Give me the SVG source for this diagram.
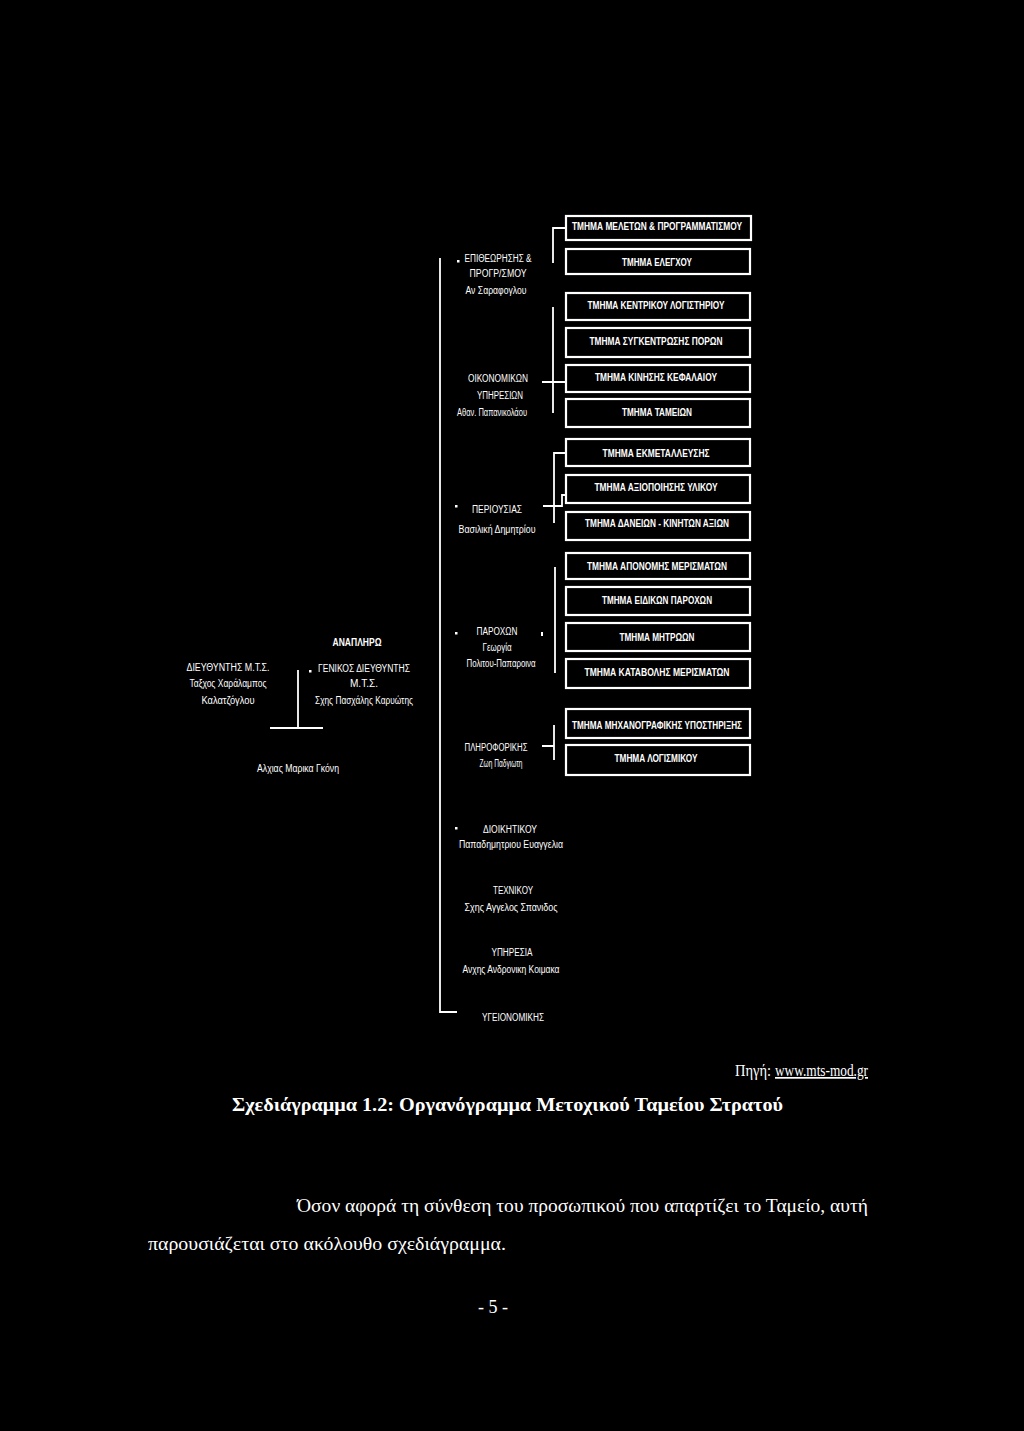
<svg xmlns="http://www.w3.org/2000/svg" width="1024" height="1431" viewBox="0 0 1024 1431">
<style>
.bg{fill:#000}
.box{fill:none;stroke:#fff;stroke-width:2.2}
.ln{fill:none;stroke:#fff;stroke-width:1.8}
.t{font-family:"Liberation Sans",Arial,sans-serif;font-size:10px;fill:#fff;text-anchor:middle}
.b{font-weight:bold}
.s{font-family:"Liberation Serif","Times New Roman",serif;fill:#fff}
.dot{fill:#fff}
</style>
<rect class="bg" x="0" y="0" width="1024" height="1431"/>
<g id="connectors">
<path class="ln" d="M440,258 V1012 H457"/>
<path class="ln" d="M298,670 V728 M270,728 H323"/>
<path class="ln" d="M566,228 H553 V263"/>
<path class="ln" d="M553,307 V413 M542,382 H566"/>
<path class="ln" d="M566,453 H554 V523 M543,506 H562 V495 H566"/>
<path class="ln" d="M555,567 V673"/>
<path class="ln" d="M554,725 V760 M542,746 H554"/>
<rect class="dot" x="541" y="632" width="2" height="4"/>
</g>
<g id="director">
<text class="t" x="228" y="671" textLength="83" lengthAdjust="spacingAndGlyphs">ΔΙΕΥΘΥΝΤΗΣ Μ.Τ.Σ.</text>
<text class="t" x="228" y="687" textLength="77" lengthAdjust="spacingAndGlyphs">Ταξχος Χαράλαμπος</text>
<text class="t" x="228" y="704" textLength="53" lengthAdjust="spacingAndGlyphs">Καλατζόγλου</text>
</g>
<g id="deputy">
<text class="t b" x="357" y="646" textLength="49" lengthAdjust="spacingAndGlyphs">ΑΝΑΠΛΗΡΩ</text>
<rect class="dot" x="309" y="670" width="2.5" height="2.5"/>
<text class="t" x="364" y="672" textLength="92" lengthAdjust="spacingAndGlyphs">ΓΕΝΙΚΟΣ ΔΙΕΥΘΥΝΤΗΣ</text>
<text class="t" x="364" y="687" textLength="28" lengthAdjust="spacingAndGlyphs">Μ.Τ.Σ.</text>
<text class="t" x="364" y="704" textLength="98" lengthAdjust="spacingAndGlyphs">Σχης Πασχάλης Καρυώτης</text>
</g>
<g id="secretary">
<text class="t" x="298" y="772" textLength="82" lengthAdjust="spacingAndGlyphs">Αλχιας Μαρικα Γκόνη</text>
</g>
<g id="dir-inspection">
<rect class="dot" x="457" y="260" width="2.5" height="2.5"/>
<text class="t" x="498" y="262" textLength="67" lengthAdjust="spacingAndGlyphs">ΕΠΙΘΕΩΡΗΣΗΣ &amp;</text>
<text class="t" x="498" y="277" textLength="57" lengthAdjust="spacingAndGlyphs">ΠΡΟΓΡ/ΣΜΟΥ</text>
<text class="t" x="496" y="294" textLength="61" lengthAdjust="spacingAndGlyphs">Αν Σαραφογλου</text>
</g>
<g id="dir-finance">
<text class="t" x="498" y="382" textLength="60" lengthAdjust="spacingAndGlyphs">ΟΙΚΟΝΟΜΙΚΩΝ</text>
<text class="t" x="500" y="399" textLength="46" lengthAdjust="spacingAndGlyphs">ΥΠΗΡΕΣΙΩΝ</text>
<text class="t" x="492" y="416" textLength="70" lengthAdjust="spacingAndGlyphs">Αθαν. Παπανικολάου</text>
</g>
<g id="dir-property">
<rect class="dot" x="455" y="505" width="2.5" height="2.5"/>
<text class="t" x="497" y="513" textLength="50" lengthAdjust="spacingAndGlyphs">ΠΕΡΙΟΥΣΙΑΣ</text>
<text class="t" x="497" y="533" textLength="77" lengthAdjust="spacingAndGlyphs">Βασιλική Δημητρίου</text>
</g>
<g id="dir-benefits">
<rect class="dot" x="455" y="632" width="2.5" height="2.5"/>
<text class="t" x="497" y="635" textLength="41" lengthAdjust="spacingAndGlyphs">ΠΑΡΟΧΩΝ</text>
<text class="t" x="497" y="651" textLength="29" lengthAdjust="spacingAndGlyphs">Γεωργία</text>
<text class="t" x="501" y="667" textLength="69" lengthAdjust="spacingAndGlyphs">Πολιτου-Παπαροινα</text>
</g>
<g id="dir-it">
<text class="t" x="496" y="751" textLength="63" lengthAdjust="spacingAndGlyphs">ΠΛΗΡΟΦΟΡΙΚΗΣ</text>
<text class="t" x="501" y="767" textLength="43" lengthAdjust="spacingAndGlyphs">Ζωη Παδγιωτη</text>
</g>
<g id="dir-admin">
<rect class="dot" x="455" y="827" width="2.5" height="2.5"/>
<text class="t" x="510" y="833" textLength="54" lengthAdjust="spacingAndGlyphs">ΔΙΟΙΚΗΤΙΚΟΥ</text>
<text class="t" x="511" y="848" textLength="104" lengthAdjust="spacingAndGlyphs">Παπαδημητριου Ευαγγελια</text>
</g>
<g id="dir-tech">
<text class="t" x="513" y="894" textLength="40" lengthAdjust="spacingAndGlyphs">ΤΕΧΝΙΚΟΥ</text>
<text class="t" x="511" y="911" textLength="93" lengthAdjust="spacingAndGlyphs">Σχης Αγγελος Σπανιδος</text>
</g>
<g id="dir-service">
<text class="t" x="512" y="956" textLength="41" lengthAdjust="spacingAndGlyphs">ΥΠΗΡΕΣΙΑ</text>
<text class="t" x="511" y="973" textLength="97" lengthAdjust="spacingAndGlyphs">Ανχης Ανδρονικη Κοιμακα</text>
</g>
<g id="dir-health">
<text class="t" x="513" y="1021" textLength="62" lengthAdjust="spacingAndGlyphs">ΥΓΕΙΟΝΟΜΙΚΗΣ</text>
</g>
<g id="b1"><rect class="box" x="566" y="216" width="185" height="24"/><text class="t b" x="657" y="230" textLength="170" lengthAdjust="spacingAndGlyphs">ΤΜΗΜΑ ΜΕΛΕΤΩΝ &amp; ΠΡΟΓΡΑΜΜΑΤΙΣΜΟΥ</text></g>
<g id="b2"><rect class="box" x="566" y="249" width="184" height="25"/><text class="t b" x="657" y="266" textLength="70" lengthAdjust="spacingAndGlyphs">ΤΜΗΜΑ ΕΛΕΓΧΟΥ</text></g>
<g id="b3"><rect class="box" x="566" y="293" width="184" height="27"/><text class="t b" x="656" y="309" textLength="137" lengthAdjust="spacingAndGlyphs">ΤΜΗΜΑ ΚΕΝΤΡΙΚΟΥ ΛΟΓΙΣΤΗΡΙΟΥ</text></g>
<g id="b4"><rect class="box" x="566" y="328" width="184" height="29"/><text class="t b" x="656" y="345" textLength="133" lengthAdjust="spacingAndGlyphs">ΤΜΗΜΑ ΣΥΓΚΕΝΤΡΩΣΗΣ ΠΟΡΩΝ</text></g>
<g id="b5"><rect class="box" x="566" y="365" width="184" height="27"/><text class="t b" x="656" y="381" textLength="122" lengthAdjust="spacingAndGlyphs">ΤΜΗΜΑ ΚΙΝΗΣΗΣ ΚΕΦΑΛΑΙΟΥ</text></g>
<g id="b6"><rect class="box" x="566" y="399" width="184" height="28"/><text class="t b" x="657" y="416" textLength="70" lengthAdjust="spacingAndGlyphs">ΤΜΗΜΑ ΤΑΜΕΙΩΝ</text></g>
<g id="b7"><rect class="box" x="566" y="439" width="184" height="27"/><text class="t b" x="656" y="457" textLength="107" lengthAdjust="spacingAndGlyphs">ΤΜΗΜΑ ΕΚΜΕΤΑΛΛΕΥΣΗΣ</text></g>
<g id="b8"><rect class="box" x="566" y="475" width="184" height="28"/><text class="t b" x="656" y="491" textLength="123" lengthAdjust="spacingAndGlyphs">ΤΜΗΜΑ ΑΞΙΟΠΟΙΗΣΗΣ ΥΛΙΚΟΥ</text></g>
<g id="b9"><rect class="box" x="566" y="512" width="184" height="28"/><text class="t b" x="657" y="527" textLength="144" lengthAdjust="spacingAndGlyphs">ΤΜΗΜΑ ΔΑΝΕΙΩΝ - ΚΙΝΗΤΩΝ ΑΞΙΩΝ</text></g>
<g id="b10"><rect class="box" x="566" y="553" width="184" height="26"/><text class="t b" x="657" y="570" textLength="140" lengthAdjust="spacingAndGlyphs">ΤΜΗΜΑ ΑΠΟΝΟΜΗΣ ΜΕΡΙΣΜΑΤΩΝ</text></g>
<g id="b11"><rect class="box" x="566" y="587" width="184" height="28"/><text class="t b" x="657" y="604" textLength="110" lengthAdjust="spacingAndGlyphs">ΤΜΗΜΑ ΕΙΔΙΚΩΝ ΠΑΡΟΧΩΝ</text></g>
<g id="b12"><rect class="box" x="566" y="623" width="184" height="28"/><text class="t b" x="657" y="641" textLength="75" lengthAdjust="spacingAndGlyphs">ΤΜΗΜΑ ΜΗΤΡΩΩΝ</text></g>
<g id="b13"><rect class="box" x="566" y="659" width="184" height="29"/><text class="t b" x="657" y="676" textLength="145" lengthAdjust="spacingAndGlyphs">ΤΜΗΜΑ ΚΑΤΑΒΟΛΗΣ ΜΕΡΙΣΜΑΤΩΝ</text></g>
<g id="b14"><rect class="box" x="566" y="709" width="184" height="29"/><text class="t b" x="657" y="729" textLength="170" lengthAdjust="spacingAndGlyphs">ΤΜΗΜΑ ΜΗΧΑΝΟΓΡΑΦΙΚΗΣ ΥΠΟΣΤΗΡΙΞΗΣ</text></g>
<g id="b15"><rect class="box" x="566" y="745" width="184" height="30"/><text class="t b" x="656" y="762" textLength="83" lengthAdjust="spacingAndGlyphs">ΤΜΗΜΑ ΛΟΓΙΣΜΙΚΟΥ</text></g>
<g id="captions">
<text class="s" x="735" y="1076" font-size="17" textLength="36" lengthAdjust="spacingAndGlyphs">Πηγή:</text>
<text class="s" x="775" y="1076" font-size="17" textLength="93" lengthAdjust="spacingAndGlyphs" text-decoration="underline">www.mts-mod.gr</text>
<text class="s" x="232" y="1111" font-size="18" font-weight="bold" textLength="551" lengthAdjust="spacingAndGlyphs">Σχεδιάγραμμα 1.2: Οργανόγραμμα Μετοχικού Ταμείου Στρατού</text>
<text class="s" x="297" y="1212" font-size="19" textLength="571" lengthAdjust="spacingAndGlyphs">Όσον αφορά τη σύνθεση του προσωπικού που απαρτίζει το Ταμείο, αυτή</text>
<text class="s" x="148" y="1250" font-size="19" textLength="358" lengthAdjust="spacingAndGlyphs">παρουσιάζεται στο ακόλουθο σχεδιάγραμμα.</text>
<text class="s" x="493" y="1313" font-size="18" text-anchor="middle">- 5 -</text>
</g>
</svg>
